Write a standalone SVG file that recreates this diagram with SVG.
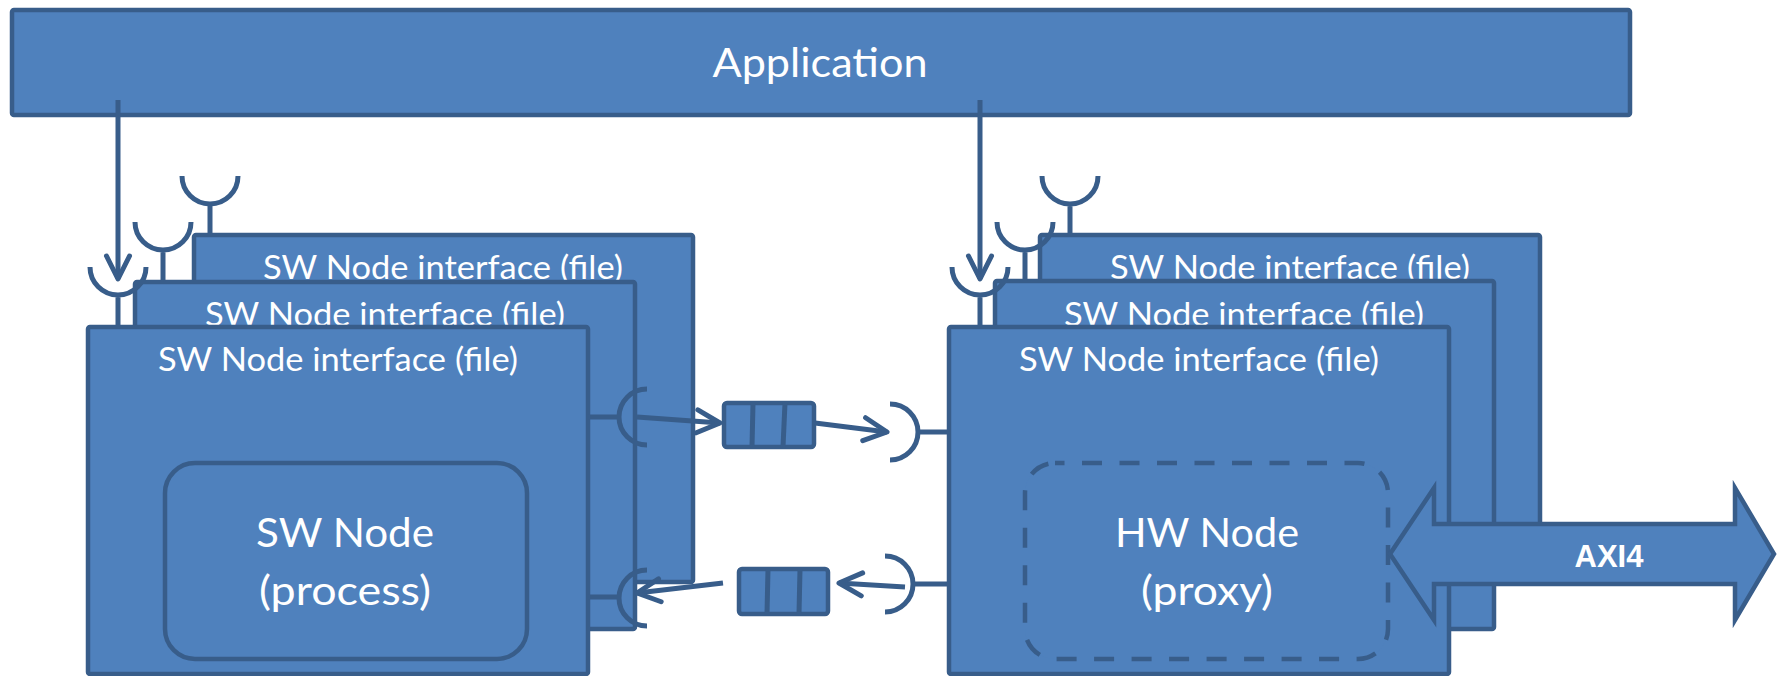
<svg xmlns="http://www.w3.org/2000/svg" width="1779" height="676" viewBox="0 0 1779 676">
<style>
.box{fill:#4F81BD;stroke:#385D8A;stroke-width:4.5}
.ln{fill:none;stroke:#385D8A;stroke-width:5}
.t{fill:#FFFFFF;font-family:Lato,"Open Sans",sans-serif;text-anchor:middle}
.lbl{font-size:33px}
.big{font-size:40px}
.axi{fill:#FFFFFF;font-family:"Liberation Sans",Arial,sans-serif;font-weight:bold;font-size:31px;text-anchor:middle}
</style>
<defs>
<marker id="open" viewBox="-28 -16 34 32" refX="0" refY="0" markerWidth="34" markerHeight="32" markerUnits="userSpaceOnUse" orient="auto" overflow="visible">
<path d="M-23,-11.5 L0,0 L-23,11.5" fill="none" stroke="#385D8A" stroke-width="5" stroke-linecap="round" stroke-linejoin="round"/>
</marker>
</defs>

<g id="application">
<rect class="box" x="12" y="10" width="1618" height="105" rx="2"/>
<text class="t big" x="820" y="77" textLength="215" lengthAdjust="spacingAndGlyphs">Application</text>
</g>

<g id="sw-back">
<rect class="box" x="194" y="235" width="499" height="347" rx="2"/>
<text class="t lbl" x="443" y="279" textLength="360" lengthAdjust="spacingAndGlyphs">SW Node interface (file)</text>
</g>
<g id="sw-middle">
<rect class="box" x="135" y="282" width="500" height="347" rx="2"/>
<text class="t lbl" x="385" y="326" textLength="360" lengthAdjust="spacingAndGlyphs">SW Node interface (file)</text>
</g>
<g id="sw-front">
<rect class="box" x="88" y="327" width="500" height="347" rx="2"/>
<text class="t lbl" x="338" y="371" textLength="360" lengthAdjust="spacingAndGlyphs">SW Node interface (file)</text>
</g>
<g id="sw-node">
<rect class="box" x="165" y="463" width="362" height="196" rx="30"/>
<text class="t big" x="345" y="547" textLength="178" lengthAdjust="spacingAndGlyphs">SW Node</text>
<text class="t big" x="345" y="605" textLength="172" lengthAdjust="spacingAndGlyphs">(process)</text>
</g>

<g id="hw-back">
<rect class="box" x="1040" y="235" width="500" height="347" rx="2"/>
<text class="t lbl" x="1290" y="279" textLength="360" lengthAdjust="spacingAndGlyphs">SW Node interface (file)</text>
</g>
<g id="hw-middle">
<rect class="box" x="995" y="281" width="499" height="348" rx="2"/>
<text class="t lbl" x="1244" y="326" textLength="360" lengthAdjust="spacingAndGlyphs">SW Node interface (file)</text>
</g>
<g id="hw-front">
<rect class="box" x="949" y="327" width="500" height="347" rx="2"/>
<text class="t lbl" x="1199" y="371" textLength="360" lengthAdjust="spacingAndGlyphs">SW Node interface (file)</text>
</g>
<g id="hw-node">
<rect x="1025" y="463" width="363" height="196" rx="30" fill="#4F81BD" stroke="#385D8A" stroke-width="4.5" stroke-dasharray="20 17.5" stroke-dashoffset="10.5"/>
<text class="t big" x="1207" y="547" textLength="184" lengthAdjust="spacingAndGlyphs">HW Node</text>
<text class="t big" x="1207" y="605" textLength="132" lengthAdjust="spacingAndGlyphs">(proxy)</text>
</g>

<g id="queue-1">
<rect class="box" x="724" y="403" width="90" height="44" rx="3"/>
<line class="ln" x1="753" y1="403" x2="752" y2="447"/>
<line class="ln" x1="785" y1="403" x2="783" y2="447"/>
</g>
<g id="queue-2">
<rect class="box" x="739" y="569" width="89" height="45" rx="3"/>
<line class="ln" x1="768" y1="569" x2="767" y2="614"/>
<line class="ln" x1="800" y1="569" x2="799" y2="614"/>
</g>

<g id="connectors">
<line class="ln" x1="118" y1="100" x2="118" y2="279" marker-end="url(#open)"/>
<line class="ln" x1="980" y1="100" x2="980" y2="279" marker-end="url(#open)"/>
<path class="ln" d="M90,267 A28,28 0 0 0 146,267 M118,295 L118,327"/>
<path class="ln" d="M135,222 A28,28 0 0 0 191,222 M163,250 L163,282"/>
<path class="ln" d="M182,176 A28,28 0 0 0 238,176 M210,204 L210,235"/>
<path class="ln" d="M952,267 A28,28 0 0 0 1008,267 M980,295 L980,327"/>
<path class="ln" d="M997,222 A28,28 0 0 0 1053,222 M1025,250 L1025,281"/>
<path class="ln" d="M1042,176 A28,28 0 0 0 1098,176 M1070,204 L1070,235"/>
<path class="ln" d="M647,389 A28,28 0 0 0 647,445 M588,417 L619,417"/>
<path class="ln" d="M647,570 A28,28 0 0 0 647,626 M588,597 L619,597"/>
<path class="ln" d="M890,404 A28,28 0 0 1 890,460 M918,432 L949,432"/>
<path class="ln" d="M885,556 A28,28 0 0 1 885,612 M913,584 L949,584"/>
<line class="ln" x1="637" y1="417" x2="720" y2="423" marker-end="url(#open)"/>
<line class="ln" x1="815" y1="423" x2="887" y2="432" marker-end="url(#open)"/>
<line class="ln" x1="905" y1="587" x2="839" y2="583" marker-end="url(#open)"/>
<line class="ln" x1="723" y1="583" x2="637" y2="593" marker-end="url(#open)"/>
</g>

<g id="axi4">
<path class="box" stroke-linejoin="miter" d="M1390,554 L1434,488 L1434,524 L1735,524 L1735,488 L1774,554 L1735,620 L1735,584 L1434,584 L1434,620 Z"/>
<text class="axi" x="1609" y="567">AXI4</text>
</g>
</svg>
